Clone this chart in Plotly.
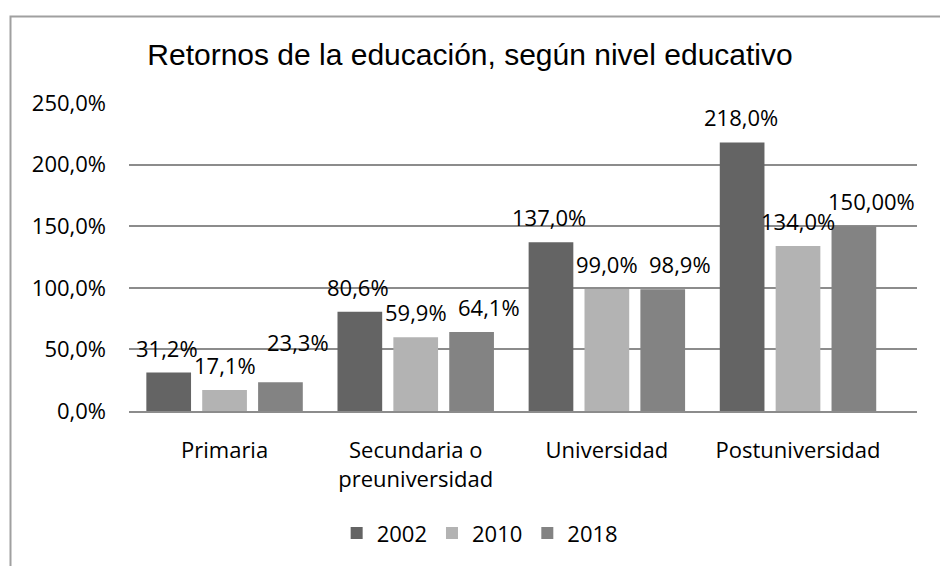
import plotly.graph_objects as go

categories = ["Primaria", "Secundaria o<br>preuniversidad", "Universidad", "Postuniversidad"]
years = ["2002", "2010", "2018"]
values_2002 = [31.2, 80.6, 137.0, 218.0]
values_2010 = [17.1, 59.9, 99.0, 134.0]
values_2018 = [23.3, 64.1, 98.9, 150.0]
labels_2002 = ["31,2%", "80,6%", "137,0%", "218,0%"]
labels_2010 = ["17,1%", "59,9%", "99,0%", "134,0%"]
labels_2018 = ["23,3%", "64,1%", "98,9%", "150,00%"]
tick_vals = [0, 50, 100, 150, 200, 250]
tick_text = ["0,0%", "50,0%", "100,0%", "150,0%", "200,0%", "250,0%"]

series = [
    (years[0], values_2002, labels_2002, "#646464"),
    (years[1], values_2010, labels_2010, "#b3b3b3"),
    (years[2], values_2018, labels_2018, "#838383"),
]

FONT = "Open Sans"
W, H = 940, 566
L, T, PW, PH = 129, 102.5, 788, 312.5

fig = go.Figure()
for name, vals, _, col in series:
    fig.add_trace(go.Bar(name=name, x=categories, y=vals, marker=dict(color=col, line=dict(width=0))))

slot = 57.5
xshifts = [-slot, 0, slot + 16]
annotations = []
for i, (name, vals, labs, col) in enumerate(series):
    for j, (v, t) in enumerate(zip(vals, labs)):
        ys = 25
        if i == 2 and j == 0:
            ys = 40
        annotations.append(dict(x=categories[j], y=v, xref="x", yref="y", text=t, showarrow=False,
                                xshift=xshifts[i], yshift=ys, yanchor="middle", xanchor="center",
                                font=dict(family=FONT, size=22, color="#000000")))

fig.update_layout(
    width=W, height=H,
    margin=dict(l=L, r=W - L - PW, t=T, b=H - T - PH, pad=0),
    paper_bgcolor="white", plot_bgcolor="white",
    separators=",.",
    barmode="group", bargap=0.123, bargroupgap=0.2,
    title=dict(text="Retornos de la educación, según nivel educativo", xref="container", x=0.5, xanchor="center",
               yref="container", y=1 - 54 / H, yanchor="middle",
               font=dict(family="Liberation Sans", size=30, color="#000000")),
    showlegend=True,
    legend=dict(orientation="h", x=0.445, xanchor="center", y=-0.397, yanchor="middle",
                font=dict(family=FONT, size=22, color="#000000"), itemwidth=30, traceorder="normal"),
    annotations=annotations,
    shapes=[dict(type="rect", xref="paper", yref="paper", x0=(10.5 - L) / PW, x1=(W + 20 - L) / PW,
                 y0=-(H + 20 - T - PH) / PH, y1=(T + PH - 14.7) / PH, line=dict(color="#a0a0a0", width=2),
                 fillcolor="rgba(0,0,0,0)", layer="below")],
)
fig.update_yaxes(range=[0, 250], tickvals=tick_vals, ticktext=tick_text,
                 showgrid=True, gridcolor="#8c8c8c", gridwidth=1.5, zeroline=False, showline=False,
                 ticks="", ticklabelstandoff=22, tickfont=dict(family=FONT, size=22, color="#000000"))
fig.update_xaxes(showline=True, linecolor="#8c8c8c", linewidth=2, ticks="", ticklabelstandoff=19,
                 tickfont=dict(family=FONT, size=22, color="#000000"))

fig.write_html("out.html", config={"displayModeBar": False},
               post_script="document.body.style.margin='0';document.body.style.overflow='hidden';")
